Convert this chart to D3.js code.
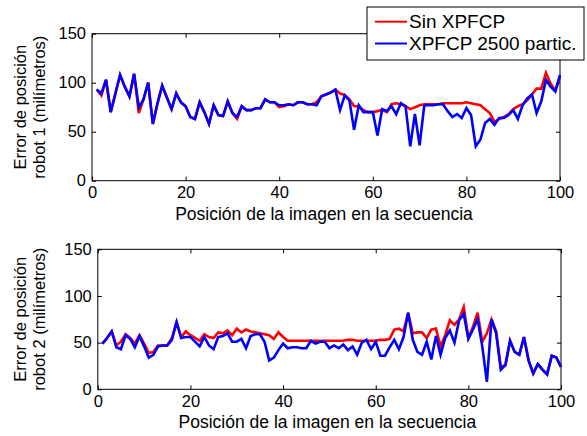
<!DOCTYPE html>
<html>
<head>
<meta charset="utf-8">
<script src="https://cdn.jsdelivr.net/npm/d3@7"></script>
<style>
  html, body { margin: 0; padding: 0; background: #fff; }
  svg { display: block; font-family: "Liberation Sans", Arial, sans-serif; }
  .tick text { font-size: 16px; fill: #000; }
</style>
</head>
<body>
<svg id="chart" width="587" height="436"></svg>
<script>
// ---- data ----
const frames = d3.range(1, 101);
const xTicks = [0, 20, 40, 60, 80, 100];
const yTicks = [0, 50, 100, 150];
const seriesNames = ["Sin XPFCP", "XPFCP 2500 partic."];
const seriesColors = ["#ff0000", "#0000ff"];

const robot1Sin = [93,87,103,70,89,108,96,86,109,69,83,100,58,79,97,85,73,89,80,76,
  65,63,80,70,58,77,67,66,81,69,63,76,72,72,74,74,83,80,80,75,
  76,78,77,80,80,78,78,80,86,88,90,93,89,87.5,83,76,76,72,70,70,
  71,72,70,78,79,78,76,73,75,77,78,78,78,78,79,79,79,79,79,80,
  79,78,77,73,69,60,63,65,68,73,76,78,82,88,94,94,110,99,92,106];
const robot1X = [93,89,103,70,89,108,96,86,109,75,83,100,58,79,97,85,73,89,80,76,
  65,63,80,70,58,77,67,66,81,69,65,76,72,72,74,74,83,80,80,77,
  77,78,77,80,80,78,78,77,86,88,90,93,72,87,82,52,77,70,70,70,
  46,73,71,76,68,79,76,35,68,36,77,77,77,78,78,71,65,68,64,74,
  67,35,42,59,63,57,64,64,67,72,63,77,84,88,69,81,103,96,91,108];
const robot2Sin = [49,55,62,47,51,59,55,49,58,49,39,40,47,47,47,55,72,56,62,58,
  55,52,59,56,55,61,60,63,58,65,61,64,62,61,60,59,58,54,61,56,
  52,52,52,52,52,52,52,52,52,52,52,52,52,53,53,52,52,52,52,52,
  53,53,54,64,65,62,82,60,61,61,55,64,65,46,58,74,69,75,88,55,
  67,82,51,60,75,62,24,26,52,40,37,56,31,17,27,21,16,36,34,24];
const robot2X = [49,55,62,45,43,58,54,45,57,46,34,37,46,47,47,53,72,55,56,56,
  51,46,56,47,43,56,57,60,51,51,54,44,57,59,59,51,31,34,42,49,
  44,45,45,44,44,52,49,51,51,44,47,44,48,42,46,37,50,53,43,51,
  36,36,45,53,43,56,82,53,40,37,51,32,57,37,55,63,50,74,81,54,
  64,75,46,8,75,60,21,26,52,40,37,56,31,17,27,21,16,36,34,24];

const panels = [
  { sin: robot1Sin, xp: robot1X, ylab: ["Error de posición", "robot 1 (milímetros)"],
    x0: 92, x1: 560, y0: 180.7, y1: 33.7 },
  { sin: robot2Sin, xp: robot2X, ylab: ["Error de posición", "robot 2 (milímetros)"],
    x0: 97.8, x1: 561, y0: 389.3, y1: 249.3 }
];

const svg = d3.select("#chart");

panels.forEach((p) => {
  const x = d3.scaleLinear().domain([0, 100]).range([p.x0, p.x1]);
  const y = d3.scaleLinear().domain([0, 150]).range([p.y0, p.y1]);
  const g = svg.append("g");

  // frame
  g.append("rect").attr("x", p.x0).attr("y", p.y1)
    .attr("width", p.x1 - p.x0).attr("height", p.y0 - p.y1)
    .attr("fill", "#fff").attr("stroke", "#000").attr("stroke-width", 1);

  const styleAxis = (sel) => {
    sel.select(".domain").remove();
    sel.selectAll(".tick line").attr("stroke", "#000");
    sel.selectAll(".tick text").attr("fill", "#000").style("font-size", "16.5px")
      .style("font-family", "'Liberation Sans', Arial, sans-serif");
  };

  g.append("g").attr("transform", `translate(0,${p.y0})`)
    .call(d3.axisBottom(x).tickValues(xTicks).tickSize(-4).tickPadding(6).tickFormat(d3.format("d")))
    .call(styleAxis);
  g.append("g").attr("transform", `translate(0,${p.y1})`)
    .call(d3.axisTop(x).tickValues(xTicks).tickSize(-4).tickFormat(""))
    .call(styleAxis);
  g.append("g").attr("transform", `translate(${p.x0},0)`)
    .call(d3.axisLeft(y).tickValues(yTicks).tickSize(-4).tickPadding(6).tickFormat(d3.format("d")))
    .call(styleAxis);
  g.append("g").attr("transform", `translate(${p.x1},0)`)
    .call(d3.axisRight(y).tickValues(yTicks).tickSize(-4).tickFormat(""))
    .call(styleAxis);

  const line = d3.line().x((d, i) => x(frames[i])).y(d => y(d));
  [p.sin, p.xp].forEach((vals, k) => {
    g.append("path").datum(vals)
      .attr("d", line)
      .attr("fill", "none")
      .attr("stroke", seriesColors[k])
      .attr("stroke-width", 2.6)
      .attr("stroke-linejoin", "miter");
  });

  // x title
  g.append("text").attr("x", (p.x0 + p.x1) / 2 - 2).attr("y", p.y0 + 39)
    .attr("text-anchor", "middle").style("font-size", "17.5px")
    .text("Posición de la imagen en la secuencia");

  // y title (two lines)
  const cy = (p.y0 + p.y1) / 2;
  p.ylab.forEach((t, k) => {
    g.append("text")
      .attr("transform", `translate(${26 + k * 19},${cy}) rotate(-90)`)
      .attr("text-anchor", "middle").style("font-size", "16.5px")
      .text(t);
  });
});

// legend
const lg = svg.append("g");
lg.append("rect").attr("x", 367).attr("y", 7).attr("width", 217).attr("height", 53)
  .attr("fill", "#fff").attr("stroke", "#000").attr("stroke-width", 1);
seriesNames.forEach((name, k) => {
  const yy = 21.7 + k * 21.8;
  lg.append("line").attr("x1", 375).attr("x2", 407).attr("y1", yy).attr("y2", yy)
    .attr("stroke", seriesColors[k]).attr("stroke-width", 2);
  lg.append("text").attr("x", 409).attr("y", yy + 6.5)
    .style("font-size", "19px").text(name);
});
</script>
</body>
</html>
